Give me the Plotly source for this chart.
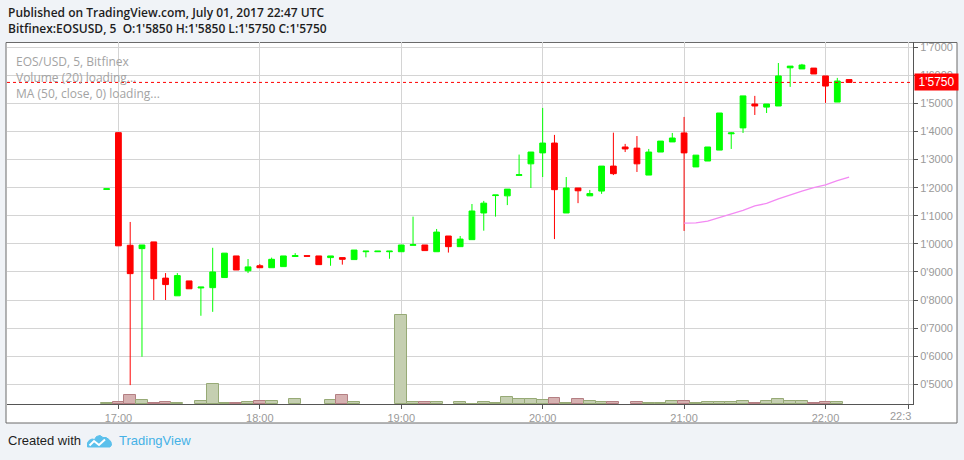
import plotly.graph_objects as go
import pandas as pd

# ---------------- data ----------------
times = pd.date_range("2017-07-01 16:55", "2017-07-01 22:10", freq="5min")

opens = [1.194, 1.396, 0.995, 0.983, 1.007, 0.878, 0.815, 0.868, 0.843, 0.844,
         0.880, 0.957, 0.904, 0.922, 0.915, 0.919, 0.955, 0.958, 0.957, 0.951,
         0.951, 0.944, 0.972, 0.972, 0.972, 0.972, 0.995, 0.996, 0.972, 1.028,
         0.990, 1.015, 1.110, 1.172, 1.171, 1.244, 1.285, 1.324, 1.359, 1.110,
         1.199, 1.171, 1.188, 1.277, 1.345, 1.341, 1.245, 1.327, 1.363, 1.395,
         1.274, 1.295, 1.334, 1.392, 1.413, 1.498, 1.487, 1.491, 1.627, 1.623,
         1.626, 1.598, 1.505, 1.585]
highs = [1.196, 1.398, 1.078, 0.996, 1.007, 0.896, 0.896, 0.868, 0.846, 0.986,
         0.967, 0.957, 0.946, 0.928, 0.951, 0.957, 0.967, 0.958, 0.957, 0.957,
         0.951, 0.978, 0.974, 0.974, 0.974, 0.996, 1.097, 0.996, 1.053, 1.028,
         1.028, 1.142, 1.153, 1.174, 1.195, 1.318, 1.327, 1.484, 1.388, 1.238,
         1.199, 1.192, 1.277, 1.396, 1.356, 1.384, 1.338, 1.366, 1.395, 1.452,
         1.316, 1.345, 1.466, 1.398, 1.527, 1.527, 1.498, 1.644, 1.633, 1.641,
         1.626, 1.598, 1.591, 1.585]
lows = [1.194, 0.993, 0.497, 0.598, 0.800, 0.800, 0.815, 0.840, 0.744, 0.758,
        0.880, 0.907, 0.896, 0.915, 0.915, 0.919, 0.955, 0.956, 0.926, 0.922,
        0.926, 0.944, 0.952, 0.972, 0.947, 0.972, 0.995, 0.976, 0.972, 0.969,
        0.990, 1.015, 1.047, 1.097, 1.138, 1.244, 1.199, 1.238, 1.017, 1.110,
        1.145, 1.171, 1.178, 1.245, 1.327, 1.256, 1.245, 1.327, 1.363, 1.046,
        1.274, 1.295, 1.334, 1.338, 1.395, 1.459, 1.466, 1.491, 1.559, 1.623,
        1.605, 1.502, 1.505, 1.575]
closes = [1.196, 0.993, 0.894, 0.996, 0.876, 0.855, 0.887, 0.840, 0.846, 0.900,
          0.967, 0.907, 0.918, 0.915, 0.945, 0.957, 0.958, 0.956, 0.926, 0.957,
          0.945, 0.978, 0.974, 0.974, 0.974, 0.996, 0.997, 0.976, 1.042, 0.990,
          1.017, 1.117, 1.145, 1.174, 1.195, 1.246, 1.327, 1.359, 1.193, 1.199,
          1.189, 1.179, 1.277, 1.250, 1.338, 1.285, 1.327, 1.366, 1.377, 1.324,
          1.316, 1.345, 1.466, 1.395, 1.527, 1.491, 1.498, 1.598, 1.633, 1.637,
          1.605, 1.562, 1.580, 1.575]
volumes = [1.0, 2.3, 9.3, 4.0, 1.0, 2.3, 1.0, None, 3.3, 20.0,
           1.0, 1.0, 2.3, 3.3, 3.3, None, 5.3, None, None, 4.0,
           9.3, 2.3, None, None, None, 88.7, 1.7, 1.7, 1.7, None,
           1.7, 0.5, 1.7, 0.7, 6.7, 4.7, 4.7, 3.7, 5.7, 0.7,
           4.7, 2.7, 1.7, 1.7, None, 1.7, 0.7, 0.7, 2.7, 2.7,
           0.7, 1.7, 1.7, 1.7, 2.7, 0.7, 2.7, 4.7, 2.7, 2.7,
           0.7, 1.7, 1.7, None]

ma_times = pd.date_range("2017-07-01 21:00", "2017-07-01 22:10", freq="5min")
ma_values = [1.074, 1.075, 1.081, 1.094, 1.106, 1.119, 1.135, 1.144, 1.160,
             1.175, 1.188, 1.200, 1.210, 1.225, 1.238]

price_ticks = [0.5, 0.6, 0.7, 0.8, 0.9, 1.0, 1.1, 1.2, 1.3, 1.4, 1.5, 1.6, 1.7]
price_labels = ["0'5000", "0'6000", "0'7000", "0'8000", "0'9000", "1'0000", "1'1000",
                "1'2000", "1'3000", "1'4000", "1'5000", "1'6000", "1'7000"]
time_ticks = ["2017-07-01 17:00", "2017-07-01 18:00", "2017-07-01 19:00",
              "2017-07-01 20:00", "2017-07-01 21:00", "2017-07-01 22:00",
              "2017-07-01 22:35"]
time_labels = ["17:00", "18:00", "19:00", "20:00", "21:00", "22:00", ""]
last_price = 1.575
last_label = "1'5750"

# ---------------- geometry helpers (pixel -> paper) ----------------
W, H = 964, 460
ML, MR, MT, MB = 7, 51, 42, 56
PW, PH = W - ML - MR, H - MT - MB


def px(x):
    return (x - ML) / PW


def py(y):
    return (H - MB - y) / PH


def path(points, close=True):
    s = "M " + " L ".join(f"{px(a):.5f},{py(b):.5f}" for a, b in points)
    return s + (" Z" if close else "")


# ---------------- figure ----------------
fig = go.Figure()

vol_fill = []
vol_line = []
for o, c in zip(opens, closes):
    if c >= o:
        vol_fill.append("#c5cfb1")
        vol_line.append("#97aa76")
    else:
        vol_fill.append("#d6b1b1")
        vol_line.append("#b47f83")

fig.add_trace(go.Bar(
    x=times, y=volumes, yaxis="y2", width=300000,
    marker=dict(color=vol_fill, line=dict(color=vol_line, width=1)),
    hoverinfo="skip", showlegend=False,
))

fig.add_trace(go.Candlestick(
    x=times, open=opens, high=highs, low=lows, close=closes,
    increasing=dict(line=dict(color="#00ff00", width=1), fillcolor="#00ff00"),
    decreasing=dict(line=dict(color="#ff0000", width=1), fillcolor="#ff0000"),
    whiskerwidth=0, showlegend=False, hoverinfo="skip",
))

fig.add_trace(go.Scatter(
    x=ma_times, y=ma_values, mode="lines",
    line=dict(color="#f38af3", width=1.3),
    hoverinfo="skip", showlegend=False,
))

grid = "#d4d4d4"
axis_font = dict(family="Liberation Sans, Arial, sans-serif", size=11, color="#9a9a9a")

fig.update_layout(
    width=W, height=H,
    margin=dict(l=ML, r=MR, t=MT, b=MB),
    paper_bgcolor="#f0f3f7",
    plot_bgcolor="#ffffff",
    boxgap=0.3,
    bargap=0,
    showlegend=False,
    hovermode=False,
    xaxis=dict(
        type="date",
        range=["2017-07-01 16:12:44", "2017-07-01 22:37:07"],
        tickvals=time_ticks, ticktext=time_labels,
        showgrid=True, gridcolor=grid, gridwidth=1,
        showline=True, linecolor="#555555", linewidth=1,
        ticks="outside", ticklen=4, tickcolor="#555555",
        tickfont=axis_font, zeroline=False,
        rangeslider=dict(visible=False), fixedrange=True,
    ),
    yaxis=dict(
        side="right",
        range=[0.4297, 1.7189],
        tickvals=price_ticks, ticktext=price_labels,
        showgrid=True, gridcolor=grid, gridwidth=1,
        showline=True, linecolor="#555555", linewidth=1,
        ticks="outside", ticklen=4, tickcolor="#555555",
        tickfont=axis_font, zeroline=False, fixedrange=True,
    ),
    yaxis2=dict(
        overlaying="y", range=[0, PH], visible=False, fixedrange=True,
    ),
)

# white chart box with border
fig.add_shape(type="rect", xref="paper", yref="paper",
              x0=px(6), x1=px(957), y0=py(423), y1=py(42.5),
              fillcolor="#ffffff", line=dict(color="#6a6a6a", width=1), layer="below")

# last price dotted line
fig.add_shape(type="line", xref="paper", yref="y", x0=0, x1=1,
              y0=last_price, y1=last_price,
              line=dict(color="#ff0000", width=1, dash="dot"))

# last price label
fig.add_annotation(xref="paper", yref="y", x=px(914), y=last_price,
                   xanchor="left", yanchor="middle", text=last_label,
                   showarrow=False, bgcolor="#ff0000", width=41, height=14,
                   borderpad=1, align="center",
                   font=dict(family="Liberation Sans, Arial, sans-serif", size=12, color="#ffffff"))

# clipped 22:3 tick label
fig.add_annotation(xref="paper", yref="paper", x=px(913), y=py(416),
                   xanchor="right", yanchor="middle", text="22:3", showarrow=False,
                   font=axis_font)

head_font = dict(family="Open Sans, sans-serif", size=12, color="#1e1e1e", weight=600)
fig.add_annotation(xref="paper", yref="paper", x=px(6), y=py(12), xanchor="left",
                   yanchor="middle", showarrow=False, font=head_font,
                   text="Published on TradingView.com, July 01, 2017 22:47 UTC")
fig.add_annotation(xref="paper", yref="paper", x=px(6), y=py(29), xanchor="left",
                   yanchor="middle", showarrow=False, font=head_font,
                   text="Bitfinex:EOSUSD, 5  O:1'5850 H:1'5850 L:1'5750 C:1'5750")

legend_font = dict(family="Open Sans, sans-serif", size=12, color="#a3a3a3")
for yy, txt in [(61, "EOS/USD, 5, Bitfinex"), (78, "Volume (20) loading..."),
                (94, "MA (50, close, 0) loading...")]:
    fig.add_annotation(xref="paper", yref="paper", x=px(14), y=py(yy), xanchor="left",
                       yanchor="middle", showarrow=False, font=legend_font, text=txt)

# footer
fig.add_annotation(xref="paper", yref="paper", x=px(6), y=py(441), xanchor="left",
                   yanchor="middle", showarrow=False,
                   font=dict(family="Liberation Sans Narrow, Liberation Sans, sans-serif",
                             size=13, color="#1e1e1e"),
                   text="Created with")
fig.add_annotation(xref="paper", yref="paper", x=px(117), y=py(441), xanchor="left",
                   yanchor="middle", showarrow=False,
                   font=dict(family="Liberation Sans Narrow, Liberation Sans, sans-serif",
                             size=13, color="#45b1e6"),
                   text="TradingView")

# logo
cloud = [(87.5, 447), (87.5, 443), (89, 440.5), (92, 439), (94.5, 439.5), (96.5, 436.5),
         (100, 435.5), (103, 437.5), (106, 437.5), (109, 439.5), (111, 442), (111.5, 445),
         (110, 447)]
fig.add_shape(type="path", xref="paper", yref="paper", path=path(cloud),
              fillcolor="#5bc0ec", line=dict(color="#5bc0ec", width=1))
zig = [(89.5, 445.5), (94, 441), (99, 445), (105, 439.5)]
fig.add_shape(type="path", xref="paper", yref="paper", path=path(zig, close=False),
              line=dict(color="#ffffff", width=2))

fig.write_html("out.html", config={"displayModeBar": False},
               post_script="document.body.style.margin='0';document.body.style.overflow='hidden';")
